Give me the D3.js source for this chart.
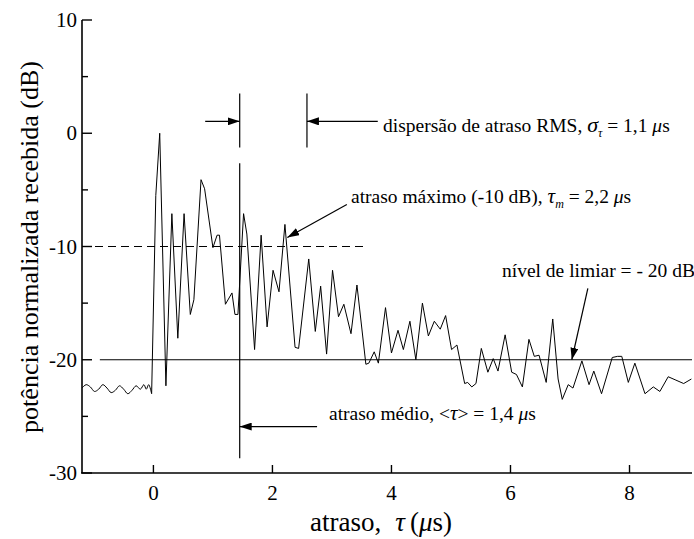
<!DOCTYPE html>
<html>
<head>
<meta charset="utf-8">
<script src="https://cdn.jsdelivr.net/npm/d3@7"></script>
<style>
  text { font-family: "Liberation Serif", "Times New Roman", serif; }
</style>
</head>
<body style="margin:0">
<script>
// perfil de retardo de potencia
var delay = [-1.2, -1.13, -1.06, -0.99, -0.92, -0.85, -0.78, -0.71, -0.64, -0.57, -0.5,
  -0.43, -0.36, -0.29, -0.22, -0.16, -0.12, -0.08, -0.03,
  0.04, 0.106, 0.21, 0.31, 0.41, 0.515, 0.62, 0.68, 0.8, 0.86, 1.0, 1.07, 1.11, 1.21,
  1.32, 1.37, 1.42, 1.515, 1.57, 1.7, 1.81, 1.91, 2.01, 2.11, 2.21, 2.38, 2.44, 2.61,
  2.72, 2.81, 2.91, 3.01, 3.11, 3.2, 3.32, 3.42, 3.57, 3.62, 3.71, 3.78, 3.9, 4.0,
  4.11, 4.2, 4.31, 4.41, 4.52, 4.62, 4.72, 4.82, 4.91, 5.01, 5.1, 5.23, 5.28, 5.35,
  5.42, 5.51, 5.62, 5.71, 5.79, 5.91, 6.02, 6.1, 6.2, 6.31, 6.4, 6.48, 6.6, 6.71,
  6.8, 6.87, 6.97, 7.05, 7.2, 7.32, 7.4, 7.53, 7.71, 7.8, 7.87, 7.98, 8.09, 8.26,
  8.4, 8.51, 8.65, 8.78, 8.91, 9.04];
var power = [-22.5, -22.2, -22.4, -22.8, -22.6, -22.2, -22.5, -22.9, -22.7, -22.3, -22.6,
  -23.0, -22.7, -22.3, -22.6, -22.2, -22.6, -22.2, -23.0,
  -5.5, 0, -22.3, -7.1, -18.1, -7.1, -16.0, -14.7, -4.1, -4.9, -10.1, -9.0, -9.0, -15.1,
  -14.1, -16.0, -16.0, -7.1, -8.9, -19.1, -9.0, -17.1, -12.1, -14.0, -8.05, -18.9, -19.0, -11.1,
  -17.5, -13.5, -19.5, -12.1, -16.2, -15.1, -17.7, -13.4, -20.4, -20.3, -19.3, -20.3, -15.4, -19.4,
  -17.4, -19.1, -16.6, -20.0, -15.0, -17.9, -16.6, -17.3, -16.1, -19.1, -18.7, -22.1, -22.0, -22.4,
  -22.1, -19.0, -21.1, -19.9, -21.0, -17.8, -21.1, -21.3, -22.4, -18.2, -19.7, -19.6, -22.0, -16.4,
  -21.7, -23.5, -22.2, -22.5, -20.1, -22.2, -21.0, -23.0, -19.8, -19.7, -19.7, -22.0, -20.3, -23.0,
  -22.4, -22.8, -21.5, -21.8, -22.1, -21.7];

var xTicks = [0, 2, 4, 6, 8];
var yTicks = [10, 0, -10, -20, -30];
var yMinor = [5, -5, -15, -25];

var meanDelay = 1.45;     // <tau>
var rmsEnd = 2.58;        // <tau> + sigma
var maxLevel = -10;       // nivel do atraso maximo
var threshold = -20;      // nivel de limiar

var width = 694, height = 539;
var margin = {top: 20, right: 2, bottom: 66, left: 82};
var fontName = "Liberation Serif";

var svg = d3.select("body").append("svg")
  .attr("width", width)
  .attr("height", height);

var x = d3.scaleLinear().domain([-1.2, 9.05]).range([margin.left, width - margin.right]);
var y = d3.scaleLinear().domain([-30, 10]).range([height - margin.bottom, margin.top]);

var defs = svg.append("defs");
defs.append("marker")
  .attr("id", "arrow")
  .attr("viewBox", "0 0 12 8")
  .attr("refX", 12).attr("refY", 4)
  .attr("markerWidth", 12).attr("markerHeight", 8)
  .attr("markerUnits", "userSpaceOnUse")
  .attr("orient", "auto")
  .append("path")
  .attr("d", "M0,0 L12,4 L0,8 Z")
  .attr("fill", "#000");

// linhas de referencia
svg.append("line")
  .attr("x1", x(-1.2)).attr("x2", x(3.6))
  .attr("y1", y(maxLevel)).attr("y2", y(maxLevel))
  .attr("stroke", "#000").attr("stroke-width", 1.1)
  .attr("stroke-dasharray", "8,5");

svg.append("line")
  .attr("x1", x(-0.9)).attr("x2", x(9.05))
  .attr("y1", y(threshold)).attr("y2", y(threshold))
  .attr("stroke", "#000").attr("stroke-width", 1.2);

// curva: ruido antes de 0 suavizado, resto em segmentos retos
var pts = delay.map(function(t, i) { return [t, power[i]]; });
var split = delay.findIndex(function(t) { return t > 0; });

var smooth = d3.line()
  .x(function(d) { return x(d[0]); })
  .y(function(d) { return y(d[1]); })
  .curve(d3.curveCatmullRom);
var line = d3.line()
  .x(function(d) { return x(d[0]); })
  .y(function(d) { return y(d[1]); });

svg.append("path")
  .datum(pts.slice(0, split))
  .attr("fill", "none")
  .attr("stroke", "#000")
  .attr("stroke-width", 1)
  .attr("d", smooth);

svg.append("path")
  .datum(pts.slice(split - 1))
  .attr("fill", "none")
  .attr("stroke", "#000")
  .attr("stroke-width", 1)
  .attr("stroke-linejoin", "round")
  .attr("d", line);

// atraso medio
svg.append("line")
  .attr("x1", x(meanDelay)).attr("x2", x(meanDelay))
  .attr("y1", y(-2.65)).attr("y2", y(-28.7))
  .attr("stroke", "#000").attr("stroke-width", 1.2);

// dispersao RMS
[meanDelay, rmsEnd].forEach(function(t) {
  svg.append("line")
    .attr("x1", x(t)).attr("x2", x(t))
    .attr("y1", y(3.5)).attr("y2", y(-1.25))
    .attr("stroke", "#000").attr("stroke-width", 1.2);
});

function arrow(x1, y1, x2, y2) {
  svg.append("line")
    .attr("x1", x1).attr("y1", y1).attr("x2", x2).attr("y2", y2)
    .attr("stroke", "#000").attr("stroke-width", 1.2)
    .attr("marker-end", "url(#arrow)");
}

arrow(x(0.87), y(1.05), x(meanDelay), y(1.05));
arrow(x(3.77), y(1.05), x(rmsEnd), y(1.05));
arrow(x(3.25), y(-6.3), x(2.25), y(-9.2));
arrow(x(7.3), y(-13.7), x(7.03), y(-20));
arrow(x(2.75), y(-25.9), x(meanDelay), y(-25.9));

// textos
var fs = 19.5;
function label(px, py) {
  return svg.append("text")
    .attr("x", px).attr("y", py)
    .attr("font-family", fontName)
    .attr("font-size", fs);
}

var t1 = label(383, 132);
t1.append("tspan").text("dispersão de atraso RMS, ");
t1.append("tspan").attr("font-style", "italic").attr("font-size", 22).text("σ");
t1.append("tspan").attr("font-style", "italic").attr("font-size", 12).attr("dy", 5).text("τ");
t1.append("tspan").attr("dy", -5).text(" = 1,1 ");
t1.append("tspan").attr("font-style", "italic").text("μ");
t1.append("tspan").text("s");

var t2 = label(351, 203);
t2.append("tspan").text("atraso máximo (-10 dB), ");
t2.append("tspan").attr("font-style", "italic").attr("font-size", 21).text("τ");
t2.append("tspan").attr("font-style", "italic").attr("font-size", 12).attr("dy", 5).text("m");
t2.append("tspan").attr("dy", -5).text(" = 2,2 ");
t2.append("tspan").attr("font-style", "italic").text("μ");
t2.append("tspan").text("s");

var t3 = label(502, 277);
t3.text("nível de limiar = - 20 dB");

var t4 = label(329, 420);
t4.append("tspan").text("atraso médio, <");
t4.append("tspan").attr("font-style", "italic").attr("font-size", 21).text("τ");
t4.append("tspan").text("> = 1,4 ");
t4.append("tspan").attr("font-style", "italic").text("μ");
t4.append("tspan").text("s");

// eixos
var axisG = svg.append("g");
axisG.append("line")
  .attr("x1", x(-1.2)).attr("x2", x(-1.2))
  .attr("y1", y(10)).attr("y2", y(-30))
  .attr("stroke", "#000").attr("stroke-width", 1.6);
axisG.append("line")
  .attr("x1", x(-1.2) - 1).attr("x2", x(9.05))
  .attr("y1", y(-30)).attr("y2", y(-30))
  .attr("stroke", "#000").attr("stroke-width", 1.6);

yTicks.forEach(function(v) {
  axisG.append("line")
    .attr("x1", x(-1.2)).attr("x2", x(-1.2) + 10)
    .attr("y1", y(v)).attr("y2", y(v))
    .attr("stroke", "#000").attr("stroke-width", 1.4);
  axisG.append("text")
    .attr("x", x(-1.2) - 5).attr("y", y(v) + 7)
    .attr("text-anchor", "end")
    .attr("font-family", fontName)
    .attr("font-size", 21)
    .text(v);
});
yMinor.forEach(function(v) {
  axisG.append("line")
    .attr("x1", x(-1.2)).attr("x2", x(-1.2) + 6)
    .attr("y1", y(v)).attr("y2", y(v))
    .attr("stroke", "#000").attr("stroke-width", 1.4);
});
xTicks.forEach(function(v) {
  axisG.append("line")
    .attr("x1", x(v)).attr("x2", x(v))
    .attr("y1", y(-30)).attr("y2", y(-30) - 8)
    .attr("stroke", "#000").attr("stroke-width", 1.4);
  axisG.append("text")
    .attr("x", x(v)).attr("y", y(-30) + 27)
    .attr("text-anchor", "middle")
    .attr("font-family", fontName)
    .attr("font-size", 21)
    .text(v);
});

// titulos dos eixos
var xt = svg.append("text")
  .attr("x", 310).attr("y", 531)
  .attr("font-family", fontName)
  .attr("font-size", 27);
xt.append("tspan").text("atraso,");
xt.append("tspan").attr("dx", 14).attr("font-style", "italic").text("τ");
xt.append("tspan").attr("dx", 5).text("(");
xt.append("tspan").attr("font-style", "italic").text("μ");
xt.append("tspan").text("s)");

svg.append("text")
  .attr("transform", "translate(38,247) rotate(-90)")
  .attr("text-anchor", "middle")
  .attr("font-family", fontName)
  .attr("font-size", 26)
  .text("potência normalizada recebida (dB)");
</script>
</body>
</html>
